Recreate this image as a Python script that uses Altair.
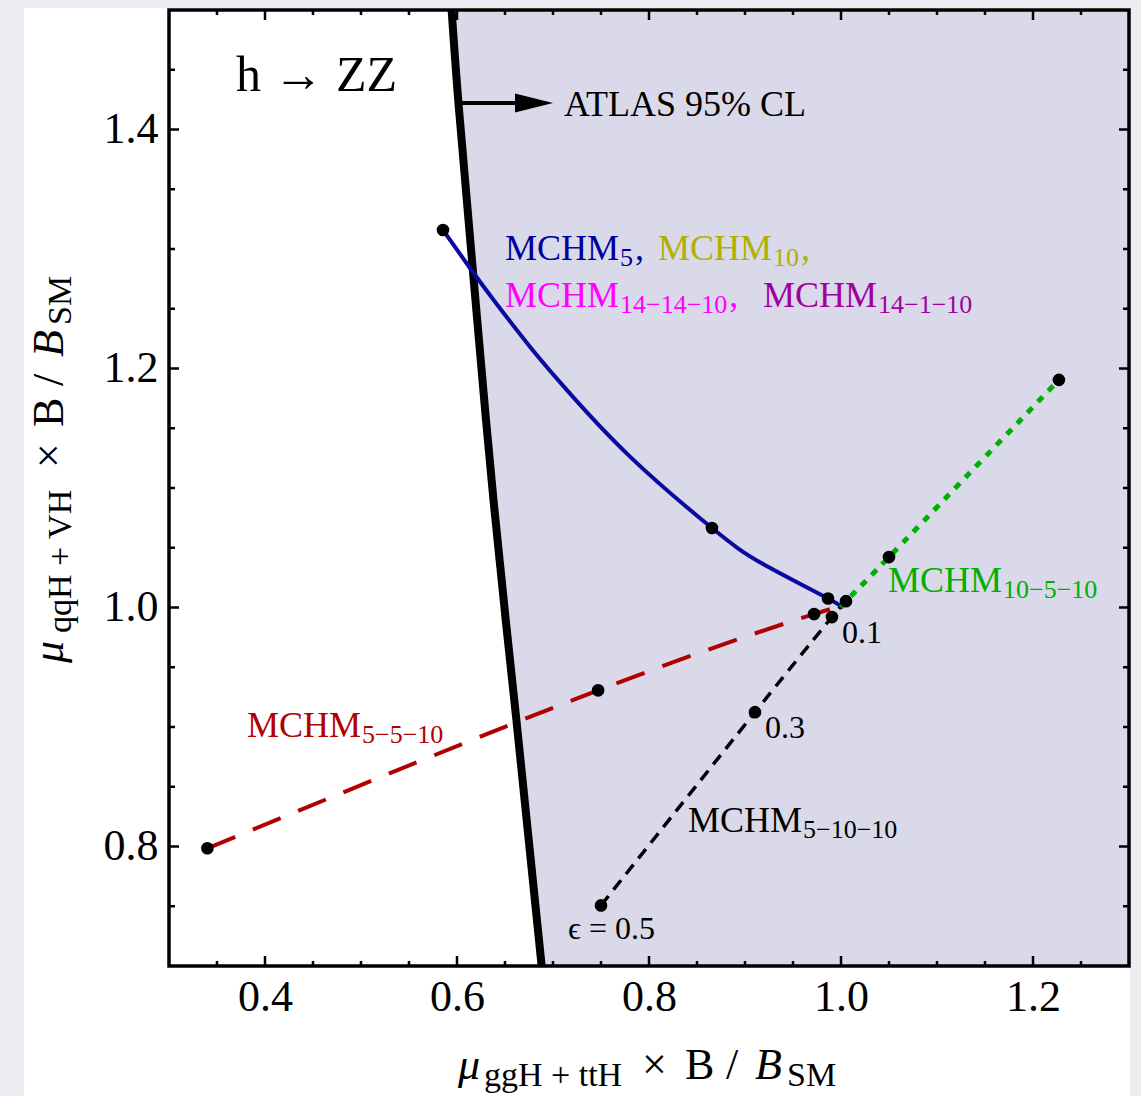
import altair as alt
import pandas as pd

# ---------------- values ----------------
bound_x = [0.5944, 0.6017, 0.6163, 0.6382, 0.6622, 0.6882]
bound_y = [1.5, 1.4205, 1.2841, 1.0883, 0.9033, 0.7]

blue_x = [0.5854, 0.6135, 0.6417, 0.676, 0.7104, 0.7802, 0.8656, 0.9188, 0.9865, 1.0]
blue_y = [1.3159, 1.2841, 1.2536, 1.2183, 1.1857, 1.1263, 1.0665, 1.0364, 1.0075, 1.0]
red_x = [0.34, 0.747, 0.972, 1.0]
red_y = [0.7985, 0.9307, 0.9945, 1.0]
black_x = [0.75, 0.9104, 0.9906, 1.0]
black_y = [0.7507, 0.9124, 0.992, 1.0]
green_x = [1.0, 1.0052, 1.05, 1.227]
green_y = [1.0, 1.0053, 1.0422, 1.1905]

dots_x = [0.5854, 0.8656, 0.9865, 0.34, 0.747, 0.972, 0.75, 0.9104, 0.9906, 1.0052, 1.05, 1.227]
dots_y = [1.3159, 1.0665, 1.0075, 0.7985, 0.9307, 0.9945, 0.7507, 0.9124, 0.992, 1.0053, 1.0422, 1.1905]

x_ticks_major = [0.4, 0.6, 0.8, 1.0, 1.2]
x_ticks_minor = [0.35, 0.45, 0.5, 0.55, 0.65, 0.7, 0.75, 0.85, 0.9, 0.95, 1.05, 1.1, 1.15, 1.25]
y_ticks_major = [0.8, 1.0, 1.2, 1.4]
y_ticks_minor = [0.75, 0.85, 0.9, 0.95, 1.05, 1.1, 1.15, 1.25, 1.3, 1.35, 1.45]

arrow_x = [0.601, 0.6656]
arrow_y = [1.4222, 1.4222]
arrow_head_x = [0.6802]
arrow_head_y = [1.4222]

label_words = ["MCHM"] * 7
label_subs = ["5", "10", "14\u221214\u221210", "14\u22121\u221210", "10\u22125\u221210", "5\u22125\u221210", "5\u221210\u221210"]
label_tails = [",", ",", ",", "", "", "", ""]
label_colors = ["#00009c", "#b0b000", "#ff00ff", "#a000a0", "#00b000", "#b00000", "#000000"]

eps_labels = ["0.1", "0.3", "\u03f5 = 0.5"]

# ---------------- layout ----------------
W, H = 960, 956
X0, X1 = 0.3, 1.3
Y0, Y1 = 0.7, 1.5
PL, PT = 169, 10
FONT = "Liberation Serif"


def px2x(px):
    return X0 + (px - PL) * (X1 - X0) / W


def py2y(py):
    return Y1 - (py - PT) * (Y1 - Y0) / H


METRIC = {"M": 889, "C": 667, "H": 722, ",": 250, " ": 250, ".": 250, "\u2212": 564,
          "+": 564, "g": 500, "q": 500, "t": 278, "V": 722, "S": 556, "B": 667}


def tw(s, size):
    return sum(METRIC.get(c, 500) for c in s) / 1000.0 * size


xscale = alt.Scale(domain=[X0, X1], nice=False, zero=False)
yscale = alt.Scale(domain=[Y0, Y1], nice=False, zero=False)
xaxis = alt.Axis(values=x_ticks_major, format=".1f", ticks=False, tickSize=0, domain=False, grid=False,
                 labelFont=FONT, labelFontSize=44, labelColor="black", labelPadding=9,
                 labelFlush=False, labelOverlap=False, zindex=1)
yaxis = alt.Axis(values=y_ticks_major, format=".1f", ticks=False, tickSize=0, domain=False, grid=False,
                 labelFont=FONT, labelFontSize=44, labelColor="black", labelPadding=11,
                 labelFlush=False, labelOverlap=False, zindex=1)


def X(f):
    return alt.X(f, type="quantitative", scale=xscale, axis=xaxis, title=None)


def Y(f):
    return alt.Y(f, type="quantitative", scale=yscale, axis=yaxis, title=None)


one = pd.DataFrame({"a": [0]})
layers = []

# white panel behind the figure
layers.append(alt.Chart(one).mark_rect(color="white").encode(
    x=alt.value(-145), x2=alt.value(W + 1), y=alt.value(-2), y2=alt.value(1096 - PT)))

# shaded region right of the ATLAS bound
bdf = pd.DataFrame({"x": bound_x, "y": bound_y, "xr": [X1] * len(bound_x)})
layers.append(alt.Chart(bdf).mark_area(orient="horizontal", color="#d9d9ea", opacity=1,
                                       interpolate="natural").encode(
    y=Y("y"), x=X("x"), x2=alt.X2("xr")))
layers.append(alt.Chart(bdf).mark_line(color="black", strokeWidth=8, interpolate="natural").encode(
    x=X("x"), y=Y("y"), order=alt.Order("y", sort="descending")))


def curve(xv, yv, color, width, dash=None):
    kw = dict(color=color, strokeWidth=width, interpolate="natural", strokeCap="butt")
    if dash:
        kw["strokeDash"] = dash
    return alt.Chart(pd.DataFrame({"x": xv, "y": yv})).mark_line(**kw).encode(x=X("x"), y=Y("y"))


layers.append(curve(blue_x, blue_y, "#0a0aa0", 4))
layers.append(curve(red_x, red_y, "#b00000", 4, [30, 19]))
layers.append(curve(black_x, black_y, "black", 3.5, [12, 8]))
layers.append(curve(green_x, green_y, "#00b000", 5, [7, 8]))

# arrow
layers.append(alt.Chart(pd.DataFrame({"x": arrow_x, "y": arrow_y})).mark_line(color="black", strokeWidth=4).encode(
    x=X("x"), y=Y("y")))
layers.append(alt.Chart(pd.DataFrame({"x": arrow_head_x, "y": arrow_head_y})).mark_point(
    shape="M-1,-0.5L1,0L-1,0.5Z", size=1444, filled=True, color="black", opacity=1).encode(x=X("x"), y=Y("y")))

# dots
layers.append(alt.Chart(pd.DataFrame({"x": dots_x, "y": dots_y})).mark_circle(size=160, color="black", opacity=1).encode(
    x=X("x"), y=Y("y")))

# text pieces
rows = []


def add(px, py, text, color, size, angle=0, italic=False):
    rows.append(dict(x=px2x(px), y=py2y(py), text=text, color=color, size=size, angle=angle, italic=italic))


add(236, 91, "h \u2192 ZZ", "black", 50)
add(564, 116, "ATLAS 95% CL", "black", 36)
eps_pos = [(842, 643), (765, 738), (568, 939)]
for t, (px, py) in zip(eps_labels, eps_pos):
    add(px, py, t, "black", 32)

label_pos = [(505, 260), (658, 260), (505, 307), (763, 307), (888, 592), (247, 737), (688, 832)]
for w, s, tl, c, (sx, sy) in zip(label_words, label_subs, label_tails, label_colors, label_pos):
    add(sx, sy, w, c, 36)
    xsub = sx + tw(w, 36) + 1
    add(xsub, sy + 6, s, c, 26)
    if tl:
        add(xsub + tw(s, 26) + 2, sy, tl, c, 36)

# axis titles
SUB = 34
xt = [("\u03bc", 0, False, True), ("ggH + ttH", 26, True, False), ("\u00d7", 184, False, False),
      ("B", 227, False, False), ("/", 268, False, False), ("B", 297, False, True), ("SM", 329, True, False)]
yt = [("\u03bc", 0, False, True), ("qqH + VH", 30, True, False), ("\u00d7", 195, False, False),
      ("B", 236, False, False), ("/", 277, False, False), ("B", 306, False, True), ("SM", 338, True, False)]
for t, off, sub, it in xt:
    add(458 + off, 1079 + (7 if sub else 0), t, "black", SUB if sub else 44, 0, it)
for t, off, sub, it in yt:
    add(63 + (8 if sub else 0), 663 - off, t, "black", SUB if sub else 44, 270, it)

tdf = pd.DataFrame(rows)
for it in [False, True]:
    sub_df = tdf[tdf["italic"] == it].drop(columns=["italic"])
    layers.append(alt.Chart(sub_df).mark_text(
        align="left", baseline="alphabetic", font=FONT, fontStyle="italic" if it else "normal").encode(
        x=X("x"), y=Y("y"), text=alt.Text("text:N"),
        color=alt.Color("color:N", scale=None), size=alt.Size("size:Q", scale=None),
        angle=alt.Angle("angle:Q", scale=None)))


# inward ticks on all four sides
def ticks(vals, side, length):
    ch = alt.Chart(pd.DataFrame({"v": vals})).mark_rule(color="black", strokeWidth=2.5)
    if side == "bottom":
        return ch.encode(x=X("v"), y=alt.value(H), y2=alt.value(H - length))
    if side == "top":
        return ch.encode(x=X("v"), y=alt.value(0), y2=alt.value(length))
    if side == "left":
        return ch.encode(y=Y("v"), x=alt.value(0), x2=alt.value(length))
    return ch.encode(y=Y("v"), x=alt.value(W), x2=alt.value(W - length))


for side in ["bottom", "top"]:
    layers.append(ticks(x_ticks_major, side, 10))
    layers.append(ticks(x_ticks_minor, side, 5))
for side in ["left", "right"]:
    layers.append(ticks(y_ticks_major, side, 10))
    layers.append(ticks(y_ticks_minor, side, 6))

# frame
layers.append(alt.Chart(one).mark_rect(filled=False, color="black", strokeWidth=3.5).encode(
    x=alt.value(0), x2=alt.value(W), y=alt.value(0), y2=alt.value(H)))

chart = alt.layer(*layers).properties(
    width=W, height=H,
    padding={"left": PL, "top": PT, "right": 1141 - PL - W, "bottom": 1096 - PT - H},
    autosize=alt.AutoSizeParams(type="none"),
    background="#ecedf3",
).configure_view(strokeWidth=0, fill="white")

chart.save("out.html", embed_options={"renderer": "svg", "actions": False})
